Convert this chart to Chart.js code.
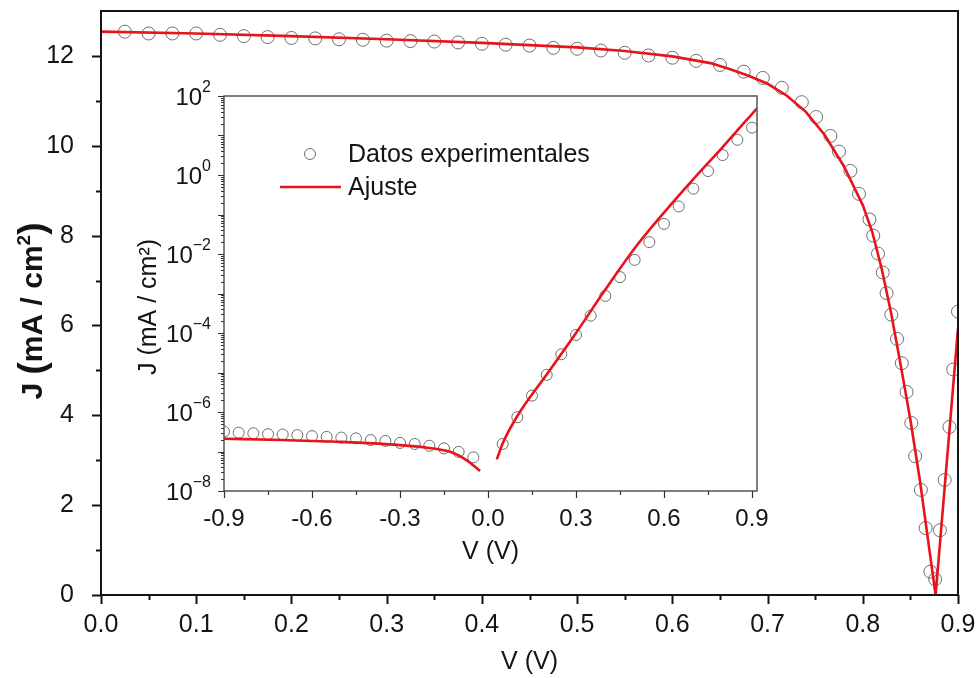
<!DOCTYPE html>
<html>
<head>
<meta charset="utf-8">
<title>Curva J-V</title>
<script src="https://cdn.jsdelivr.net/npm/chart.js@4.4.1/dist/chart.umd.min.js"></script>
<style>
  html, body { margin: 0; padding: 0; background: #fff; }
  #wrap { position: relative; width: 979px; height: 678px; }
  #main { position: absolute; left: 0; top: 0; }
  #inset { position: absolute; left: 130px; top: 80px; }
</style>
</head>
<body>
<div id="wrap">
  <canvas id="main" width="979" height="678"></canvas>
  <canvas id="inset" width="640" height="490"></canvas>
</div>
<script>
// --- curva principal (iluminada), |J| en mA/cm2 ---
const expV = [0.025, 0.05, 0.075, 0.1, 0.125, 0.15, 0.175, 0.2, 0.225, 0.25, 0.275, 0.3, 0.325,
  0.35, 0.375, 0.4, 0.425, 0.45, 0.475, 0.5, 0.525, 0.55, 0.575, 0.6, 0.625, 0.65, 0.675,
  0.695, 0.715, 0.736, 0.751, 0.766, 0.775, 0.787, 0.796, 0.807, 0.811, 0.816,
  0.821, 0.825, 0.83, 0.836, 0.841, 0.846, 0.851, 0.855, 0.861, 0.866, 0.871, 0.876,
  0.881, 0.886, 0.891, 0.895, 0.9];
const expJ = [12.54, 12.50, 12.50, 12.50, 12.47, 12.44, 12.42, 12.40, 12.39, 12.37, 12.36, 12.34, 12.33,
  12.32, 12.30, 12.27, 12.25, 12.23, 12.18, 12.16, 12.12, 12.07, 12.01, 11.96, 11.89, 11.80, 11.65,
  11.51, 11.29, 10.97, 10.64, 10.22, 9.87, 9.44, 8.93, 8.36, 8.00, 7.60,
  7.18, 6.72, 6.24, 5.70, 5.16, 4.52, 3.83, 3.09, 2.34, 1.49, 0.52, 0.35,
  1.44, 2.56, 3.74, 5.02, 6.31];

const fitV = [0, 0.1, 0.2, 0.3, 0.4, 0.5, 0.55, 0.6, 0.64, 0.66, 0.68, 0.70, 0.72, 0.74, 0.76,
  0.78, 0.80, 0.81, 0.82, 0.83, 0.84, 0.85, 0.86, 0.87, 0.8765, 0.9];
const fitJ = [12.54, 12.50, 12.44, 12.37, 12.29, 12.19, 12.11, 11.99, 11.84, 11.71, 11.56, 11.38, 11.12, 10.76, 10.24,
  9.55, 8.68, 8.08, 7.25, 6.25, 5.1, 3.9, 2.55, 1.0, 0, 5.93];

const mainXTicks = [0, 0.1, 0.2, 0.3, 0.4, 0.5, 0.6, 0.7, 0.8, 0.9];
const mainYTicks = [0, 2, 4, 6, 8, 10, 12];

// --- inserto: oscuridad, escala log ---
const insExpLeftV = [-0.9, -0.85, -0.8, -0.75, -0.7, -0.65, -0.6, -0.55, -0.5, -0.45, -0.4, -0.35,
  -0.3, -0.25, -0.2, -0.15, -0.1, -0.05];
const insExpLeftJ = [3.2e-7, 3.0e-7, 2.9e-7, 2.75e-7, 2.7e-7, 2.6e-7, 2.45e-7, 2.35e-7, 2.25e-7, 2.15e-7,
  1.95e-7, 1.85e-7, 1.65e-7, 1.55e-7, 1.4e-7, 1.2e-7, 9.8e-8, 7.1e-8];
const insExpRightV = [0.05, 0.1, 0.15, 0.2, 0.25, 0.3, 0.35, 0.4, 0.45, 0.5, 0.55, 0.6, 0.65, 0.7,
  0.75, 0.8, 0.85, 0.9];
const insExpRightJ = [1.55e-7, 7.4e-7, 2.6e-6, 8.7e-6, 2.9e-5, 8.9e-5, 2.75e-4, 8.7e-4, 2.6e-3, 7.1e-3,
  0.020, 0.058, 0.16, 0.45, 1.26, 3.2, 7.8, 15.8];

const insFitLeftV = [-0.9, -0.7, -0.5, -0.3, -0.2, -0.12, -0.07, -0.027];
const insFitLeftJ = [2.1e-7, 1.95e-7, 1.75e-7, 1.45e-7, 1.23e-7, 9.3e-8, 5.8e-8, 3.2e-8];
const insFitRightV = [0.03, 0.05, 0.1, 0.2, 0.3, 0.4, 0.5, 0.6, 0.7, 0.8, 0.917];
const insFitRightJ = [6.3e-8, 1.6e-7, 7.9e-7, 8.9e-6, 1.0e-4, 1.26e-3, 1.4e-2, 0.112, 0.79, 5.1, 49];

const insXTicks = [-0.9, -0.6, -0.3, 0, 0.3, 0.6, 0.9];
const insYExp = [-8, -6, -4, -2, 0, 2];

const FONT = '"Liberation Sans", Arial, sans-serif';
const RED = '#e8141b';
const GREY = '#6e6e6e';
const INK = '#141414';

Chart.defaults.font.family = FONT;
Chart.defaults.color = INK;
Chart.defaults.animation = false;

const pts = (xs, ys) => xs.map((x, i) => ({ x, y: ys[i] }));

// sin margen extra por las etiquetas de los extremos
function noPad(s) {
  s.paddingLeft = 0; s.paddingRight = 0; s.paddingTop = 0; s.paddingBottom = 0;
}

function tickRow(ctx, scale, values, len, horizontal, base) {
  ctx.beginPath();
  values.forEach((v) => {
    const p = Math.round(scale.getPixelForValue(v)) + 0.5;
    if (horizontal) { ctx.moveTo(p, base); ctx.lineTo(p, base + len); }
    else { ctx.moveTo(base, p); ctx.lineTo(base - len, p); }
  });
  ctx.stroke();
}

const midpoints = (arr) => arr.slice(1).map((v, i) => (v + arr[i]) / 2);

// texto en piezas sobre una misma linea base (parentesis mas grandes)
function drawPieces(ctx, pieces, cx, cy) {
  let total = 0;
  pieces.forEach((p) => { ctx.font = p.font; p.w = ctx.measureText(p.t).width; total += p.w; });
  let x = cx - total / 2;
  ctx.textAlign = 'left';
  pieces.forEach((p) => { ctx.font = p.font; ctx.fillText(p.t, x, cy + (p.dy || 0)); x += p.w; });
}

// marco, ticks menores y titulos del grafico principal
const mainDecor = {
  id: 'mainDecor',
  afterDraw(chart) {
    const { ctx, chartArea: a, scales: { x, y } } = chart;
    ctx.save();
    ctx.strokeStyle = INK;
    ctx.lineWidth = 2;
    ctx.strokeRect(a.left, a.top, a.right - a.left, a.bottom - a.top);
    tickRow(ctx, x, mainXTicks, 9, true, a.bottom);
    tickRow(ctx, x, midpoints(mainXTicks), 5, true, a.bottom);
    tickRow(ctx, y, mainYTicks, 9, false, a.left);
    tickRow(ctx, y, midpoints(mainYTicks), 5, false, a.left);

    ctx.fillStyle = INK;
    ctx.textAlign = 'center';
    ctx.textBaseline = 'alphabetic';
    ctx.font = '25px ' + FONT;
    ctx.fillText('V (V)', (a.left + a.right) / 2, 669);

    ctx.translate(42, (a.top + a.bottom) / 2 + 8);
    ctx.rotate(-Math.PI / 2);
    const b = 'bold 30px ' + FONT, bp = 'bold 37px ' + FONT;
    drawPieces(ctx, [
      { t: 'J ', font: b }, { t: '(', font: bp, dy: 2 }, { t: 'mA / cm', font: b },
      { t: '2', font: 'bold 19px ' + FONT, dy: -12 }, { t: ')', font: bp, dy: 2 }
    ], 0, 0);
    ctx.restore();
  }
};

new Chart(document.getElementById('main'), {
  type: 'scatter',
  data: {
    datasets: [
      {
        label: 'Ajuste',
        type: 'line',
        data: pts(fitV, fitJ),
        borderColor: RED,
        borderWidth: 2.6,
        pointRadius: 0,
        tension: 0,
        order: 0
      },
      {
        label: 'Datos experimentales',
        data: pts(expV, expJ),
        pointRadius: 6.5,
        pointBorderWidth: 1,
        borderColor: GREY,
        backgroundColor: 'rgba(0,0,0,0)',
        order: 1
      }
    ]
  },
  options: {
    responsive: false,
    events: [],
    layout: { padding: { left: 0, top: 11, right: 21, bottom: 0 } },
    plugins: { legend: { display: false }, tooltip: { enabled: false } },
    scales: {
      x: {
        type: 'linear', min: 0, max: 0.9,
        afterBuildTicks: (s) => { s.ticks = mainXTicks.map((value) => ({ value })); },
        afterFit: (s) => { s.height = 83; noPad(s); },
        grid: { display: false },
        border: { display: false },
        ticks: { font: { size: 25 }, padding: 7, maxRotation: 0, callback: (v) => v.toFixed(1) }
      },
      y: {
        type: 'linear', min: 0, max: 13,
        afterBuildTicks: (s) => { s.ticks = mainYTicks.map((value) => ({ value })); },
        afterFit: (s) => { s.width = 101; noPad(s); },
        grid: { display: false },
        border: { display: false },
        ticks: { font: { size: 25 }, padding: 19 }
      }
    }
  },
  plugins: [mainDecor]
});

// inserto: fondo, marco, etiquetas 10^n, leyenda
const insetDecor = {
  id: 'insetDecor',
  beforeDraw(chart) {
    const { ctx, chartArea: a } = chart;
    ctx.save();
    ctx.fillStyle = '#fff';
    ctx.fillRect(a.left, a.top, a.right - a.left, a.bottom - a.top);
    ctx.restore();
  },
  afterDraw(chart) {
    const { ctx, chartArea: a, scales: { x, y } } = chart;
    ctx.save();
    ctx.strokeStyle = '#555';
    ctx.lineWidth = 1.5;
    ctx.strokeRect(a.left, a.top, a.right - a.left, a.bottom - a.top);

    ctx.strokeStyle = '#333';
    ctx.lineWidth = 1.2;
    tickRow(ctx, x, insXTicks, 7, true, a.bottom);
    tickRow(ctx, x, midpoints(insXTicks), 4, true, a.bottom);
    const decades = [], minors = [];
    for (let e = -8; e <= 2; e++) {
      decades.push(Math.pow(10, e));
      if (e < 2) for (let m = 2; m <= 9; m++) minors.push(m * Math.pow(10, e));
    }
    tickRow(ctx, y, decades, 6, false, a.left);
    tickRow(ctx, y, minors, 3, false, a.left);

    // etiquetas del eje log
    ctx.fillStyle = INK;
    ctx.textBaseline = 'middle';
    ctx.textAlign = 'right';
    const xr = a.left - 13;
    insYExp.forEach((e) => {
      const py = y.getPixelForValue(Math.pow(10, e));
      const sup = String(e).replace('-', '\u2212');
      ctx.font = '16px ' + FONT;
      const w = ctx.measureText(sup).width;
      ctx.fillText(sup, xr, py - 8);
      ctx.font = '24px ' + FONT;
      ctx.fillText('10', xr - w, py + 2);
    });

    // titulos
    ctx.textAlign = 'center';
    ctx.font = '25px ' + FONT;
    ctx.fillText('V (V)', (a.left + a.right) / 2, 472);
    ctx.save();
    ctx.translate(19, 227);
    ctx.rotate(-Math.PI / 2);
    ctx.fillText('J (mA / cm\u00B2)', 0, 0);
    ctx.restore();

    // leyenda
    ctx.strokeStyle = GREY;
    ctx.lineWidth = 1;
    ctx.beginPath();
    ctx.arc(180, 74, 5.5, 0, Math.PI * 2);
    ctx.stroke();
    ctx.strokeStyle = RED;
    ctx.lineWidth = 2.6;
    ctx.beginPath();
    ctx.moveTo(150, 107);
    ctx.lineTo(211, 107);
    ctx.stroke();
    ctx.textAlign = 'left';
    ctx.fillText('Datos experimentales', 218, 75);
    ctx.fillText('Ajuste', 218, 108);
    ctx.restore();
  }
};

const fitStyle = { type: 'line', borderColor: RED, borderWidth: 2.6, pointRadius: 0, cubicInterpolationMode: 'monotone', order: 0 };
const expStyle = { pointRadius: 5.5, pointBorderWidth: 1, borderColor: GREY, backgroundColor: 'rgba(0,0,0,0)', order: 1 };

new Chart(document.getElementById('inset'), {
  type: 'scatter',
  data: {
    datasets: [
      Object.assign({ label: 'Ajuste', data: pts(insFitLeftV, insFitLeftJ) }, fitStyle),
      Object.assign({ label: 'Ajuste', data: pts(insFitRightV, insFitRightJ) }, fitStyle),
      Object.assign({ label: 'Datos experimentales', data: pts(insExpLeftV, insExpLeftJ) }, expStyle),
      Object.assign({ label: 'Datos experimentales', data: pts(insExpRightV, insExpRightJ) }, expStyle)
    ]
  },
  options: {
    responsive: false,
    events: [],
    layout: { padding: { left: 0, top: 16, right: 13, bottom: 0 } },
    plugins: { legend: { display: false }, tooltip: { enabled: false } },
    scales: {
      x: {
        type: 'linear', min: -0.9, max: 0.917,
        afterBuildTicks: (s) => { s.ticks = insXTicks.map((value) => ({ value })); },
        afterFit: (s) => { s.height = 79; noPad(s); },
        grid: { display: false },
        border: { display: false },
        ticks: { font: { size: 24 }, padding: 6, maxRotation: 0, callback: (v) => v.toFixed(1) }
      },
      y: {
        type: 'logarithmic', min: 1e-8, max: 1e2,
        afterBuildTicks: (s) => { s.ticks = insYExp.map((e) => ({ value: Math.pow(10, e) })); },
        afterFit: (s) => { s.width = 94; noPad(s); },
        grid: { display: false },
        border: { display: false },
        ticks: { display: false }
      }
    }
  },
  plugins: [insetDecor]
});
</script>
</body>
</html>
